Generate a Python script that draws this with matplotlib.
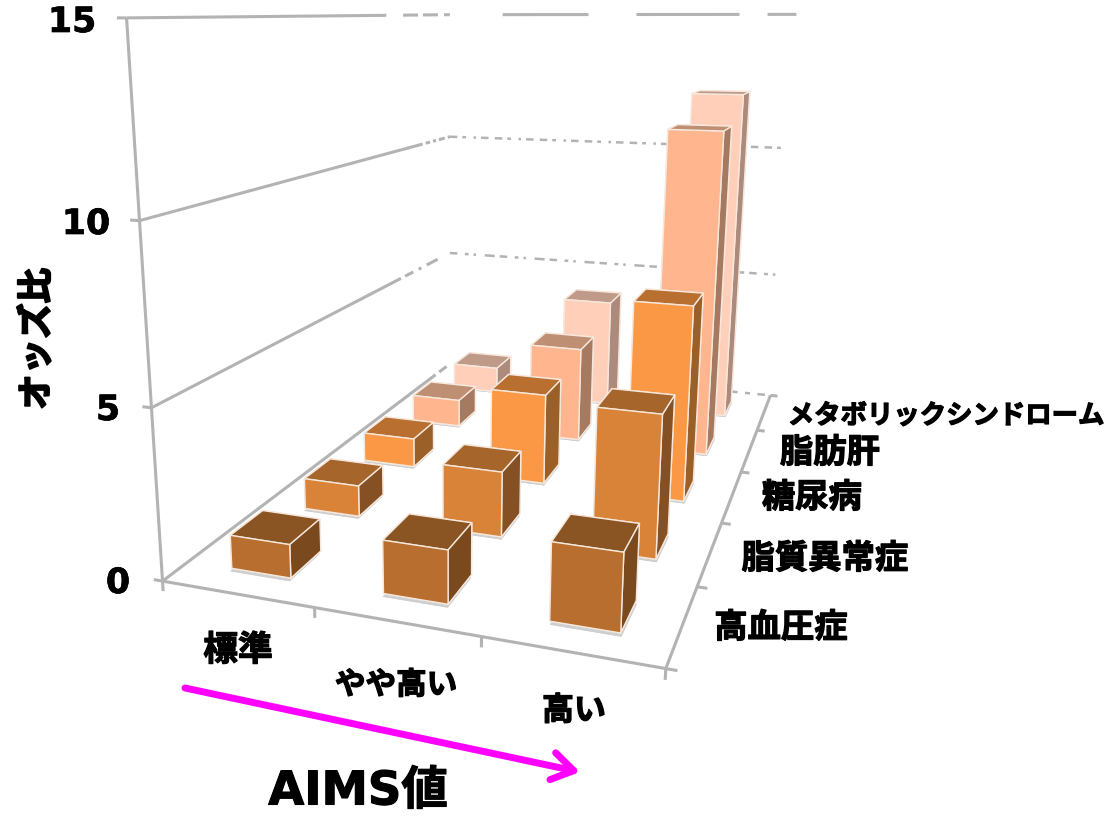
import numpy as np
import matplotlib
matplotlib.use("Agg")
import matplotlib.pyplot as plt
import matplotlib.patheffects as pe

W, H = 1111, 816
JP = ["Noto Sans CJK JP", "DejaVu Sans"]

# AIMS levels (x) and diseases (depth), front row first
levels = ["標準", "やや高い", "高い"]
diseases = ["高血圧症", "脂質異常症", "糖尿病", "脂肪肝", "メタボリックシンドローム"]
odds = [
    [1.0, 1.55, 2.2],   # 高血圧症
    [1.0, 2.05, 4.35],  # 脂質異常症
    [1.0, 3.05, 6.4],   # 糖尿病
    [1.0, 3.4, 11.3],   # 脂肪肝
    [1.0, 4.1, 12.2],   # メタボ
]
z_ticks = [0, 5, 10, 15]

# bottom, top, front, back, left, right
row_colors = [
    ["#b86e2e", "#8a5423", "#b86e2e", "#b86e2e", "#7a4a1e", "#7a4a1e"],
    ["#d98339", "#a5652b", "#d98339", "#d98339", "#855023", "#855023"],
    ["#fb9845", "#b86f30", "#fb9845", "#fb9845", "#9b5f28", "#9b5f28"],
    ["#ffb58d", "#bf8f74", "#ffb58d", "#ffb58d", "#a67a60", "#a67a60"],
    ["#ffcfba", "#c09a88", "#ffcfba", "#ffcfba", "#ac8a7c", "#ac8a7c"],
]

# where the corners of the plot box sit in the picture (box coords -> pixels)
box_pts = [(0, 0, 0), (3, 0, 0), (3, 5, 0), (0, 5, 0),
           (0, 0, 5), (0, 0, 10), (0, 0, 15),
           (0, 5, 5), (0, 5, 10), (0, 5, 15),
           (3, 5, 5), (3, 5, 10), (3, 5, 15)]
pix_pts = [(162, 581), (667, 668), (773, 396), (450, 363),
           (150, 407), (140, 222), (127, 18),
           (450, 254), (450, 137), (450, 14),
           (777, 275), (782, 148), (800, 14)]

fig = plt.figure(figsize=(W / 100, H / 100), dpi=100)
ax = fig.add_axes([0, (1 - W / H) / 2, 1, W / H], projection="3d")
ax.set_axis_off()
ax.patch.set_visible(False)
ax.computed_zorder = False
ax.set_autoscale_on(False)
ax.apply_aspect()

# fit the camera to those corners and use it instead of view_init
uv = ax.transData.inverted().transform([(x, H - y) for x, y in pix_pts])
A = []
for (X, Y, Z), (u, v) in zip(box_pts, uv):
    A.append([X, Y, Z, 1, 0, 0, 0, 0, -u * X, -u * Y, -u * Z, -u])
    A.append([0, 0, 0, 0, X, Y, Z, 1, -v * X, -v * Y, -v * Z, -v])
P = np.linalg.svd(np.array(A))[2][-1].reshape(3, 4)
if P[2] @ [1.5, 2.5, 0, 1] < 0:
    P = -P
M = np.array([P[0], P[1], [0, 0, 0, -1], P[2]])
ax.get_proj = lambda: M

GRID = "#b3b3b3"


def line3d(xs, ys, zs, **kw):
    kw.setdefault("lw", 2.2)
    kw.setdefault("color", GRID)
    kw.setdefault("zorder", 1)
    ax.plot(xs, ys, zs, solid_capstyle="butt", dash_capstyle="butt", **kw)


# left wall + axis edges
line3d([0, 0], [0, 0], [0, 15])
line3d([0, 3], [0, 0], [0, 0])
line3d([3, 3], [0, 5], [0, 0])
line3d([0, 0], [0, 5], [0, 0], ls=(0, (112, 1.5, 3, 1.5, 1.5, 1, 2, 1, 1, 20)))
line3d([0, 0], [0, 5], [5, 5], ls=(0, (92, 1.5, 3, 2, 1, 2, 4, 20)))
line3d([0, 0], [0, 5], [10, 10], ls=(0, (96, 1, 1.5, 1, 1, 1, 2, 1, 1, 1, 2, 1, 1, 2, 2, 20)))
line3d([0, 0], [0, 5], [15, 15], ls=(0, (85, 5.5, 4.9, 1.6, 4.9, 2, 3.6, 20)))
# back wall
line3d([0, 3], [5, 5], [15, 15], ls=(119.9, (28.1, 15.7, 33.7, 9.2, 10.5, 40)))
line3d([0, 3], [5, 5], [10, 10], ls=(0, (3, 2, 1.5, 3, 1, 2, 3, 2.5)), lw=1.8)
line3d([0, 3], [5, 5], [5, 5], ls=(0, (3, 3, 1.5, 2, 1, 3.5, 4, 2)), lw=1.8)
line3d([2.65, 3], [5, 5], [0, 0], ls=(0, (3, 3, 2, 3)), lw=1.8)

# ticks
for z in z_ticks:
    line3d([-0.06, 0], [0, 0], [z, z])
for i in range(len(levels) + 1):
    line3d([i, i], [0, 0], [0, -0.3])
for j in range(len(diseases) + 1):
    line3d([3, 3.06], [j, j], [0, 0])

# bars, back row first so the front ones cover them
bar_w, bar_d = 0.40, 0.41
n = 2
for j in range(len(diseases) - 1, -1, -1):
    for i in range(len(levels)):
        x0 = i + 0.5 - bar_w / 2
        y0 = j + 0.5 - bar_d / 2
        s = ax.bar3d(x0 + 0.012, y0 - 0.04, 0, bar_w, bar_d, 0.001, color="#cfcfcf", shade=False)
        s.set_zorder(n)
        b = ax.bar3d(x0, y0, 0, bar_w, bar_d, odds[j][i], color=row_colors[j], shade=False,
                     edgecolor="#f6e8dd", linewidth=1.0)
        b.set_zorder(n + 1)
        n += 2


def label(x, y, s, size, family=JP, stroke=0.9, **kw):
    t = fig.text(x / W, 1 - y / H, s, fontsize=size, fontweight="bold", family=family,
                 ha="center", va="center", color="black", **kw)
    t.set_path_effects([pe.withStroke(linewidth=stroke, foreground="black")])


for z, (x, y) in zip(z_ticks, [(118, 583), (108, 410), (86, 224), (72, 22)]):
    label(x, y, str(z), 25, family=["DejaVu Sans"], stroke=0.5)
label(37, 339, "オッズ比", 25.5, rotation=90, stroke=1.4)

for s, (x, y), size in zip(diseases, [(781, 628), (825, 559), (812, 498), (830, 453), (946, 416)],
                           [24, 24, 24, 24, 19]):
    label(x, y, s, size)
for s, (x, y), size in zip(levels, [(238, 650), (396, 685), (574, 711)], [25, 22, 23]):
    label(x, y, s, size)

label(358, 792, "AIMS値", 33.5, family=["DejaVu Sans", "Noto Sans CJK JP"], stroke=0.8)

ax.annotate("", xy=(580 / W, 1 - 772 / H), xytext=(185 / W, 1 - 688 / H),
            xycoords="figure fraction", textcoords="figure fraction", zorder=200,
            arrowprops=dict(arrowstyle="->,head_length=0.7,head_width=0.45", color="#ff00ff",
                            lw=5, mutation_scale=22, shrinkA=0, shrinkB=0))

fig.savefig("out.png", dpi=100)
